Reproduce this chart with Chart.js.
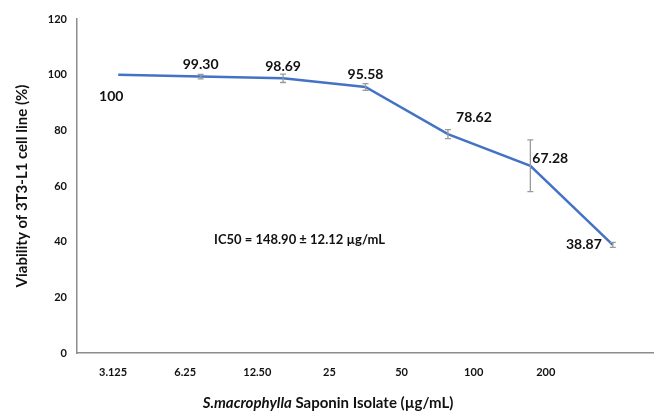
<!DOCTYPE html>
<html>
<head>
<meta charset="utf-8">
<script src="https://cdn.jsdelivr.net/npm/chart.js@4.4.0/dist/chart.umd.min.js"></script>
<style>
    html, body { margin: 0; padding: 0; background: #fff; }
    #grafico { display: block; }
</style>
</head>
<body>
<canvas id="grafico" width="654" height="414"></canvas>
<script>
var concentrazioni = ['3.125', '6.25', '12.50', '25', '50', '100', '200'];
var vitalita = [100, 99.30, 98.69, 95.58, 78.62, 67.28, 38.87];
var errori = [0, 0.8, 1.5, 1.2, 1.6, 9.3, 0.9];
var etichette = ['100', '99.30', '98.69', '95.58', '78.62', '67.28', '38.87'];
var yTicks = [0, 20, 40, 60, 80, 100, 120];
var ic50 = 'IC50 = 148.90 \u00b1 12.12 \u00b5g/mL';

// where each value label sits relative to its point
var posEtichette = ['below', 'above', 'above', 'above', 'aboveRight', 'right', 'left'];

var font = 'Lato, "Open Sans", sans-serif';

var extraPlugin = {
    id: 'extra',
    afterDatasetsDraw: function (chart) {
        var ctx = chart.ctx;
        var xs = chart.scales.x;
        var ys = chart.scales.y;
        var area = chart.chartArea;

        // error bars
        ctx.save();
        ctx.strokeStyle = '#9a9a9a';
        ctx.lineWidth = 1.3;
        for (var i = 0; i < vitalita.length; i++) {
            if (!errori[i]) continue;
            var px = xs.getPixelForValue(i);
            var top = ys.getPixelForValue(vitalita[i] + errori[i]);
            var bot = ys.getPixelForValue(vitalita[i] - errori[i]);
            ctx.beginPath();
            ctx.moveTo(px, top); ctx.lineTo(px, bot);
            ctx.moveTo(px - 3, top); ctx.lineTo(px + 3, top);
            ctx.moveTo(px - 3, bot); ctx.lineTo(px + 3, bot);
            ctx.stroke();
        }
        ctx.restore();

        // value labels
        ctx.save();
        ctx.fillStyle = '#111';
        ctx.font = 'bold 14px ' + font;
        ctx.textBaseline = 'middle';
        for (var j = 0; j < vitalita.length; j++) {
            var x = xs.getPixelForValue(j);
            var y = ys.getPixelForValue(vitalita[j]);
            var p = posEtichette[j];
            if (p === 'below') { ctx.textAlign = 'center'; ctx.fillText(etichette[j], x - 7, y + 22); }
            else if (p === 'above') { ctx.textAlign = 'center'; ctx.fillText(etichette[j], x, y - 12); }
            else if (p === 'aboveRight') { ctx.textAlign = 'center'; ctx.fillText(etichette[j], x + 26, y - 17); }
            else if (p === 'right') { ctx.textAlign = 'left'; ctx.fillText(etichette[j], x + 2, y - 7); }
            else { ctx.textAlign = 'right'; ctx.fillText(etichette[j], x - 11, y); }
        }

        // IC50 note
        ctx.font = 'bold 13px ' + font;
        ctx.textAlign = 'center';
        ctx.fillText(ic50, xs.getPixelForValue(2.2), ys.getPixelForValue(40.7));

        // y axis title
        ctx.save();
        ctx.translate(22, (area.top + area.bottom) / 2);
        ctx.rotate(-Math.PI / 2);
        ctx.font = 'bold 15px ' + font;
        ctx.textAlign = 'center';
        ctx.fillText('Viability of 3T3-L1 cell line (%)', 0, 0);
        ctx.restore();

        // x axis title, species name in italic
        var a = 'S.macrophylla';
        var b = ' Saponin Isolate (\u00b5g/mL)';
        ctx.font = 'italic bold 15px ' + font;
        var wa = ctx.measureText(a).width;
        ctx.font = 'bold 15px ' + font;
        var wb = ctx.measureText(b).width;
        var sx = 328 - (wa + wb) / 2;
        ctx.textAlign = 'left';
        ctx.font = 'italic bold 15px ' + font;
        ctx.fillText(a, sx, 403);
        ctx.font = 'bold 15px ' + font;
        ctx.fillText(b, sx + wa, 403);
        ctx.restore();
    }
};

var ctx = document.getElementById('grafico');
var grafico = new Chart(ctx, {
    type: 'line',
    data: {
        labels: concentrazioni,
        datasets: [{
            label: 'Viability',
            data: vitalita,
            borderColor: '#4472c4',
            borderWidth: 2.5,
            pointRadius: 0,
            tension: 0,
            fill: false
        }]
    },
    options: {
        responsive: false,
        animation: false,
        layout: { padding: { top: 19, right: 0, bottom: 0, left: 0 } },
        plugins: { legend: { display: false }, tooltip: { enabled: false } },
        scales: {
            x: {
                type: 'category',
                display: false,
                offset: true
            },
            x2: {
                type: 'category',
                position: 'bottom',
                labels: concentrazioni.concat(['']),
                offset: true,
                grid: { display: false, drawTicks: false },
                border: { display: true, color: '#8c8c8c', width: 1.5 },
                ticks: {
                    padding: 13,
                    color: '#111',
                    maxRotation: 0,
                    autoSkip: false,
                    font: { family: font, size: 11, weight: 'bold' }
                },
                afterFit: function (scale) { scale.height = 61; }
            },
            y: {
                min: 0,
                max: 120,
                afterBuildTicks: function (scale) {
                    scale.ticks = yTicks.map(function (v) { return { value: v }; });
                },
                grid: { display: false, drawTicks: false },
                border: { display: true, color: '#8c8c8c', width: 1.5 },
                ticks: {
                    padding: 10,
                    color: '#111',
                    font: { family: font, size: 11, weight: 'bold' }
                },
                afterFit: function (scale) { scale.width = 77; }
            }
        }
    },
    plugins: [extraPlugin]
});
</script>
</body>
</html>
